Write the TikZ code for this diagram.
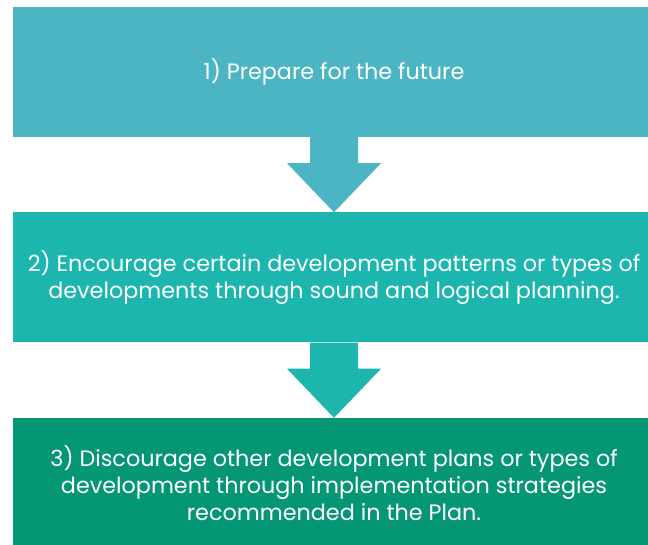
\documentclass[tikz,border=0pt]{standalone}
\usepackage{fontspec}
\setmainfont{Poppins}
\usetikzlibrary{calc}
\definecolor{cone}{HTML}{4BB5C4}
\definecolor{ctwo}{HTML}{1CB6AE}
\definecolor{cthree}{HTML}{049675}
\tikzset{
  stepbox/.style={rectangle, inner sep=0pt, minimum width=642pt, text=white, align=center,
    font=\fontsize{22.3}{27}\selectfont}
}
\begin{document}
\begin{tikzpicture}[x=1pt,y=-1pt]
\useasboundingbox (0,0) rectangle (648,545);
\clip (0,0) rectangle (648,545);
\node[stepbox, fill=cone, minimum height=129.5pt] (b1) at (334,72.25) {1) Prepare for the future};
\node[stepbox, fill=ctwo, minimum height=130pt] (b2) at (334,277.5) {2) Encourage certain development patterns or types of\\developments through sound and logical planning.};
\node[stepbox, fill=cthree, minimum height=130pt] (b3) at (334,483) {3) Discourage other development plans or types of\\development through implementation strategies\\recommended in the Plan.};
\fill[cone] ($(b1.south)+(-24,0)$) -- ($(b1.south)+(-24,26)$) -- ($(b1.south)+(-47,26)$) -- (b2.north) -- ($(b1.south)+(47,26)$) -- ($(b1.south)+(24,26)$) -- ($(b1.south)+(24,0)$) -- cycle;
\fill[ctwo] ($(b2.south)+(-24,0)$) -- ($(b2.south)+(-24,26)$) -- ($(b2.south)+(-47,26)$) -- (b3.north) -- ($(b2.south)+(47,26)$) -- ($(b2.south)+(24,26)$) -- ($(b2.south)+(24,0)$) -- cycle;
\end{tikzpicture}
\end{document}
